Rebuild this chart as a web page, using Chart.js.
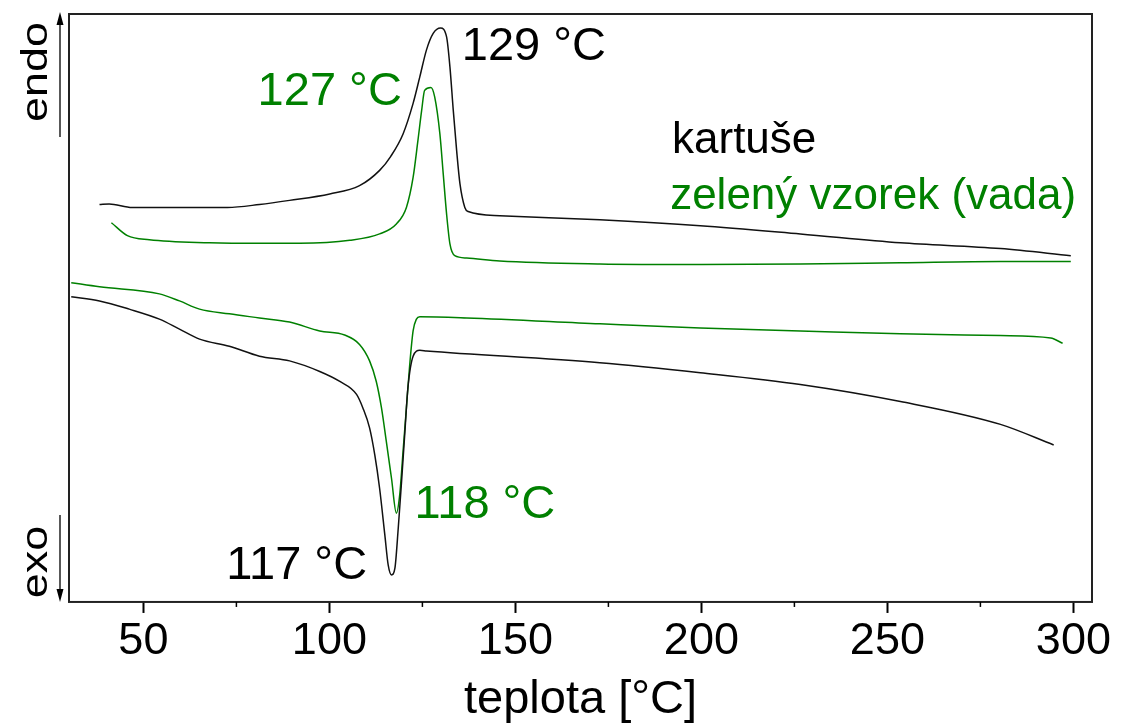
<!DOCTYPE html>
<html>
<head>
<meta charset="utf-8">
<script src="https://cdn.jsdelivr.net/npm/chart.js@4.4.1/dist/chart.umd.min.js"></script>
<style>
  html, body { margin: 0; padding: 0; background: #fff; }
</style>
</head>
<body>
<canvas id="dsc" width="1121" height="727"></canvas>
<script>
// DSC curves - heating (endo peaks) and cooling (exo peaks), arbitrary heat flow units
const FONT = '"Liberation Sans", Arial, sans-serif';
const GREEN = '#008000';

const majorTicks = [50, 100, 150, 200, 250, 300];
const minorTicks = [75, 125, 175, 225, 275];

const seriesNames = ['kartuše', 'zelený vzorek (vada)'];
const peakTemps = [129, 127, 118, 117];

// kartuse - heating
const kartHeatT = [38.2, 40.8, 47.0, 72.6, 81.2, 89.3, 100.1, 108.1, 113.5, 116.5, 119.8, 122.5, 124.3, 126.1, 127.9, 129.9, 131.5, 132.4, 133.3, 134.2, 135.1, 136.4, 137.3, 145.8, 172.7, 199.7, 226.6, 253.5, 280.4, 299.3];
const kartHeatQ = [67.6, 67.7, 67.1, 67.1, 67.6, 68.3, 69.4, 70.8, 73.4, 75.8, 79.6, 84.8, 89.3, 93.9, 96.7, 97.6, 96.1, 91.0, 83.6, 76.8, 71.1, 67.1, 66.4, 65.7, 65.0, 64.0, 62.6, 61.1, 60.1, 58.9];

// zeleny vzorek - heating
const zelHeatT = [41.4, 45.7, 51.6, 67.8, 81.2, 92.0, 105.5, 113.5, 118.0, 120.7, 122.5, 123.8, 124.8, 125.6, 127.3, 128.3, 129.7, 130.6, 131.5, 132.4, 133.7, 136.9, 145.8, 172.7, 199.7, 226.6, 253.5, 280.4, 299.3];
const zelHeatQ = [64.5, 62.3, 61.6, 61.1, 61.0, 61.0, 61.5, 62.6, 64.3, 67.1, 72.2, 78.5, 83.6, 87.0, 87.5, 85.9, 79.6, 72.8, 66.0, 60.9, 58.9, 58.5, 58.0, 57.5, 57.4, 57.5, 57.7, 57.9, 57.9];

// kartuse - cooling
const kartCoolT = [30.6, 38.2, 46.2, 54.3, 59.7, 65.1, 73.1, 81.2, 89.3, 97.4, 102.8, 107.3, 109.0, 110.8, 112.2, 113.5, 114.9, 115.8, 116.7, 117.6, 118.5, 119.4, 120.3, 121.1, 122.5, 124.3, 126.1, 172.7, 199.7, 226.6, 253.5, 280.4, 294.7];
const kartCoolQ = [51.9, 51.2, 49.8, 48.1, 46.4, 44.7, 43.5, 41.8, 41.0, 39.2, 37.5, 35.3, 33.0, 29.6, 25.0, 19.3, 11.4, 6.3, 4.6, 5.7, 12.5, 20.5, 29.0, 36.4, 41.8, 42.8, 42.7, 40.7, 39.0, 37.0, 34.1, 30.2, 26.7];

// zeleny vzorek - cooling
const zelCoolT = [30.6, 38.2, 54.3, 59.7, 65.1, 73.1, 81.2, 89.3, 97.4, 104.1, 108.1, 110.8, 112.6, 114.0, 115.3, 116.7, 118.0, 118.9, 119.8, 120.7, 121.6, 122.5, 123.4, 124.3, 136.9, 172.7, 199.7, 226.6, 253.5, 280.4, 293.9, 297.1];
const zelCoolQ = [54.3, 53.6, 52.4, 51.2, 49.8, 49.0, 48.3, 47.6, 46.1, 45.4, 43.8, 41.0, 37.5, 33.0, 27.3, 21.0, 15.1, 18.2, 25.6, 33.0, 40.4, 46.1, 48.1, 48.5, 48.3, 47.3, 46.6, 46.1, 45.6, 45.3, 44.9, 44.0];

const toPoints = (xs, ys) => xs.map((x, i) => ({ x, y: ys[i] }));

// Annotation placement (data coordinates of text baseline start)
const peakLabelPos = [
  { x: 135.6, y: 92.2, color: '#000' },
  { x: 80.7, y: 84.5, color: GREEN },
  { x: 122.9, y: 14.2, color: GREEN },
  { x: 72.3, y: 3.9, color: '#000' }
];
const legendPos = [
  { x: 192.1, y: 76.3, color: '#000' },
  { x: 191.6, y: 66.9, color: GREEN }
];

const decorations = {
  id: 'decorations',
  afterDraw(chart) {
    const { ctx, chartArea: a, scales: { x, y } } = chart;
    ctx.save();

    // frame
    ctx.strokeStyle = '#222';
    ctx.lineWidth = 2;
    ctx.strokeRect(a.left, a.top, a.right - a.left, a.bottom - a.top);

    // minor ticks
    ctx.strokeStyle = '#000';
    ctx.lineWidth = 1.5;
    minorTicks.forEach(v => {
      const px = x.getPixelForValue(v);
      ctx.beginPath();
      ctx.moveTo(px, a.bottom);
      ctx.lineTo(px, a.bottom + 5);
      ctx.stroke();
    });

    // peak labels
    ctx.font = '47px ' + FONT;
    ctx.textAlign = 'left';
    ctx.textBaseline = 'alphabetic';
    peakTemps.forEach((t, i) => {
      const p = peakLabelPos[i];
      ctx.fillStyle = p.color;
      ctx.fillText(t + ' °C', x.getPixelForValue(p.x), y.getPixelForValue(p.y));
    });

    // series names
    ctx.font = '44px ' + FONT;
    seriesNames.forEach((name, i) => {
      const p = legendPos[i];
      ctx.fillStyle = p.color;
      ctx.fillText(name, x.getPixelForValue(p.x), y.getPixelForValue(p.y));
    });

    // endo / exo with arrows
    ctx.fillStyle = '#000';
    ctx.font = '45px ' + FONT;
    ctx.textAlign = 'center';
    [['endo', a.top + 58], ['exo', a.bottom - 40]].forEach(([txt, cy]) => {
      ctx.save();
      ctx.translate(a.left - 22, cy);
      ctx.rotate(-Math.PI / 2);
      ctx.scale(1, 0.82);
      ctx.fillText(txt, 0, 0);
      ctx.restore();
    });

    const ax = a.left - 9;
    ctx.strokeStyle = '#222';
    ctx.lineWidth = 1.5;
    ctx.beginPath();
    ctx.moveTo(ax, a.top + 123);
    ctx.lineTo(ax, a.top + 8);
    ctx.moveTo(ax, a.bottom - 87);
    ctx.lineTo(ax, a.bottom - 8);
    ctx.stroke();
    ctx.fillStyle = '#000';
    ctx.beginPath();
    ctx.moveTo(ax, a.top - 2);
    ctx.lineTo(ax - 3.5, a.top + 11);
    ctx.lineTo(ax + 3.5, a.top + 11);
    ctx.closePath();
    ctx.moveTo(ax, a.bottom);
    ctx.lineTo(ax - 3.5, a.bottom - 13);
    ctx.lineTo(ax + 3.5, a.bottom - 13);
    ctx.closePath();
    ctx.fill();

    ctx.restore();
  }
};

new Chart(document.getElementById('dsc'), {
  type: 'line',
  data: {
    datasets: [
      { label: seriesNames[0] + ' ohřev', data: toPoints(kartHeatT, kartHeatQ), borderColor: '#111' },
      { label: seriesNames[1] + ' ohřev', data: toPoints(zelHeatT, zelHeatQ), borderColor: GREEN },
      { label: seriesNames[0] + ' chlazení', data: toPoints(kartCoolT, kartCoolQ), borderColor: '#111' },
      { label: seriesNames[1] + ' chlazení', data: toPoints(zelCoolT, zelCoolQ), borderColor: GREEN }
    ]
  },
  options: {
    responsive: false,
    animation: false,
    layout: { padding: { left: 69, right: 29, top: 14, bottom: 0 } },
    elements: {
      point: { radius: 0 },
      line: { borderWidth: 1.5, cubicInterpolationMode: 'monotone', fill: false }
    },
    plugins: {
      legend: { display: false },
      tooltip: { enabled: false }
    },
    scales: {
      x: {
        type: 'linear',
        min: 30,
        max: 305,
        afterBuildTicks: scale => { scale.ticks = majorTicks.map(v => ({ value: v })); },
        border: { display: false },
        grid: { drawOnChartArea: false, tickLength: 11, tickWidth: 2, tickColor: '#000' },
        ticks: { color: '#000', padding: 2, maxRotation: 0, font: { family: FONT, size: 45 } },
        title: {
          display: true,
          text: 'teplota [°C]',
          color: '#000',
          font: { family: FONT, size: 47, lineHeight: 1.15 },
          padding: { top: 2, bottom: 0 }
        }
      },
      y: { display: false, min: 0, max: 100 }
    }
  },
  plugins: [decorations]
});
</script>
</body>
</html>
